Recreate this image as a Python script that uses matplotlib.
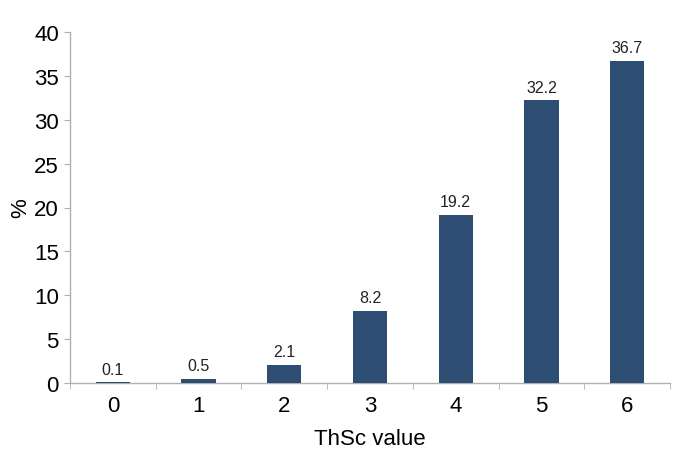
import matplotlib
matplotlib.use("Agg")
import matplotlib.pyplot as plt

categories = ["0", "1", "2", "3", "4", "5", "6"]
values = [0.1, 0.5, 2.1, 8.2, 19.2, 32.2, 36.7]
labels = ["0.1", "0.5", "2.1", "8.2", "19.2", "32.2", "36.7"]
yticks = [0, 5, 10, 15, 20, 25, 30, 35, 40]

plt.rcParams['font.family'] = ['Liberation Sans', 'DejaVu Sans']

dpi = 100
fig = plt.figure(figsize=(673 / dpi, 452 / dpi), dpi=dpi)
ax = fig.add_axes([70 / 673, 1 - 384 / 452, 600 / 673, 351 / 452])

x = list(range(len(categories)))
ax.bar(x, values, width=0.4, color="#2e4d72", zorder=3)
for xi, v, lab in zip(x, values, labels):
    ax.annotate(lab, (xi, v), xytext=(0, 4), textcoords="offset points",
                ha="center", va="bottom", fontsize=11.5, color="#222222")

ax.set_xlim(-0.5, 6.5)
ax.set_ylim(0, 40)
ax.set_yticks(yticks)
ax.set_xticks(x)
ax.set_xticklabels(categories)
ax.set_xticks([i + 0.5 for i in range(-1, 7)], minor=True)
ax.tick_params(axis="x", which="major", length=0, pad=9, labelsize=16)
ax.tick_params(axis="x", which="minor", length=4, color="#b0b0b0", direction="out")
ax.tick_params(axis="y", length=4, color="#b0b0b0", labelsize=16, pad=4)

for s in ["top", "right"]:
    ax.spines[s].set_visible(False)
for s in ["left", "bottom"]:
    ax.spines[s].set_color("#b0b0b0")
    ax.spines[s].set_linewidth(1.0)

ax.set_xlabel("ThSc value", fontsize=16, labelpad=8)
ax.set_ylabel("%", fontsize=16, labelpad=2)

fig.savefig("out.png", dpi=dpi)
